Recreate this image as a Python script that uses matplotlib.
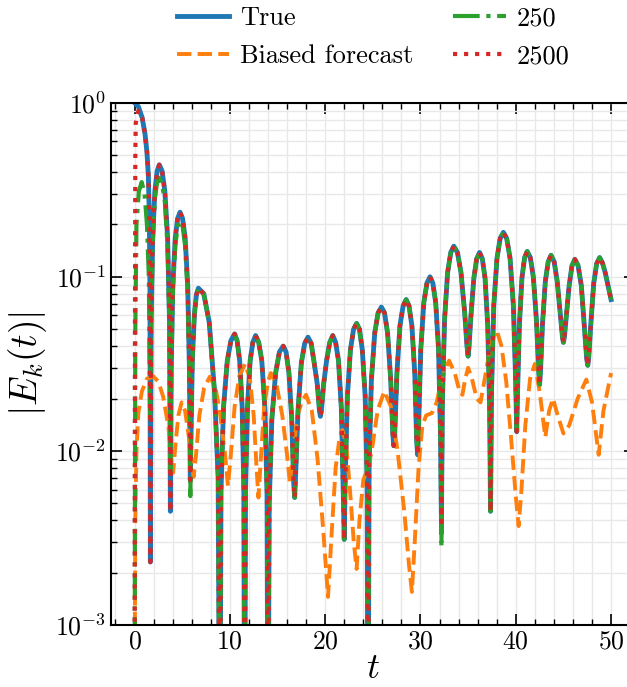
import matplotlib
matplotlib.use("Agg")
import matplotlib.pyplot as plt
import numpy as np
from matplotlib.ticker import MultipleLocator, LogLocator, NullFormatter

plt.rcParams['font.family'] = 'serif'
plt.rcParams['font.serif'] = ['cmr10', 'DejaVu Serif']
plt.rcParams['mathtext.fontset'] = 'cm'
plt.rcParams['axes.formatter.use_mathtext'] = True

# true |E_k(t)|
t_true = [0.0, 0.4, 0.8, 1.1, 1.3, 1.45, 1.55, 1.62, 1.66,
          1.74, 1.90, 2.13, 2.37, 2.6, 2.89, 3.18, 3.47, 3.67, 3.76,
          3.84, 4.01, 4.27, 4.52, 4.77, 5.04, 5.31, 5.58, 5.76, 5.85,
          5.92, 6.06, 6.28, 6.49, 6.7, 7.26, 7.83, 8.39, 8.77, 8.95,
          9.07, 9.34, 9.73, 10.11, 10.5, 10.76, 11.03, 11.29, 11.47, 11.55,
          11.64, 11.84, 12.13, 12.41, 12.7, 13.03, 13.35, 13.68, 13.9, 14.0,
          14.13, 14.4, 14.8, 15.2, 15.6, 15.9, 16.2, 16.5, 16.7, 16.8,
          16.91, 17.15, 17.5, 17.85, 18.2, 18.53, 18.85, 19.18, 19.4, 19.5,
          19.6, 19.83, 20.15, 20.48, 20.8, 21.1, 21.4, 21.7, 21.9, 22.0,
          22.1, 22.33, 22.65, 22.98, 23.3, 23.6, 23.9, 24.2, 24.4, 24.5,
          24.61, 24.85, 25.2, 25.55, 25.9, 26.23, 26.55, 26.88, 27.1, 27.2,
          27.3, 27.53, 27.85, 28.18, 28.5, 28.8, 29.1, 29.4, 29.6, 29.7,
          29.8, 30.03, 30.35, 30.68, 31.0, 31.3, 31.6, 31.9, 32.1, 32.2,
          32.3, 32.53, 32.85, 33.18, 33.5, 33.88, 34.25, 34.63, 34.88, 35.0,
          35.1, 35.3, 35.6, 35.9, 36.2, 36.49, 36.78, 37.06, 37.26, 37.35,
          37.46, 37.69, 38.03, 38.36, 38.7, 39.05, 39.4, 39.75, 39.99, 40.1,
          40.19, 40.38, 40.65, 40.93, 41.2, 41.53, 41.85, 42.18, 42.4, 42.5,
          42.6, 42.8, 43.1, 43.4, 43.7, 44.03, 44.35, 44.68, 44.9, 45.0,
          45.1, 45.3, 45.6, 45.9, 46.2, 46.54, 46.88, 47.21, 47.44, 47.55,
          47.65, 47.86, 48.18, 48.49, 48.8, 49.1, 49.4, 49.7, 50.0]
e_true = [1.0, 0.95, 0.82, 0.66, 0.52, 0.38, 0.22, 0.08, 0.0023,
          0.055, 0.167, 0.31, 0.405, 0.44, 0.405, 0.31, 0.167, 0.055, 0.0045,
          0.029, 0.089, 0.167, 0.216, 0.235, 0.216, 0.167, 0.089, 0.029, 0.0068,
          0.012, 0.033, 0.061, 0.079, 0.086, 0.080, 0.055, 0.022, 0.007, 0.0001,
          0.0059, 0.018, 0.033, 0.043, 0.047, 0.043, 0.033, 0.018, 0.0059, 0.0001,
          0.0058, 0.0175, 0.033, 0.042, 0.046, 0.042, 0.033, 0.0175, 0.0058, 0.0001,
          0.005, 0.015, 0.028, 0.037, 0.040, 0.037, 0.028, 0.015, 0.0065, 0.0054,
          0.0075, 0.017, 0.032, 0.0415, 0.045, 0.0415, 0.032, 0.024, 0.017, 0.0158,
          0.017, 0.024, 0.033, 0.042, 0.046, 0.042, 0.033, 0.0175, 0.0058, 0.0031,
          0.0068, 0.0205, 0.038, 0.050, 0.054, 0.050, 0.038, 0.0205, 0.0068, 0.0001,
          0.0084, 0.0255, 0.0475, 0.062, 0.067, 0.062, 0.0475, 0.0255, 0.0125, 0.0107,
          0.0125, 0.028, 0.0525, 0.068, 0.074, 0.068, 0.0525, 0.028, 0.0115, 0.0095,
          0.0135, 0.038, 0.071, 0.092, 0.10, 0.092, 0.071, 0.038, 0.0125, 0.0039,
          0.019, 0.057, 0.106, 0.138, 0.15, 0.138, 0.106, 0.063, 0.040, 0.035,
          0.040, 0.060, 0.098, 0.127, 0.138, 0.127, 0.098, 0.052, 0.017, 0.0045,
          0.0225, 0.068, 0.128, 0.166, 0.18, 0.166, 0.128, 0.068, 0.025, 0.0129,
          0.022, 0.053, 0.099, 0.129, 0.14, 0.129, 0.099, 0.055, 0.029, 0.024,
          0.029, 0.053, 0.094, 0.122, 0.133, 0.122, 0.094, 0.060, 0.045, 0.042,
          0.045, 0.059, 0.089, 0.116, 0.126, 0.116, 0.089, 0.050, 0.034, 0.031,
          0.034, 0.052, 0.092, 0.119, 0.129, 0.12, 0.105, 0.088, 0.074]

# biased forecast
t_bias = [0.0, 0.08, 0.2, 0.4, 0.77, 1.3, 2.0, 2.5, 3.0, 3.55, 3.85, 4.05, 4.3,
          4.6, 4.94, 5.3, 5.7, 6.0, 6.2, 6.45, 6.8, 7.3, 7.9, 8.5, 9.0, 9.5,
          9.8, 10.1, 10.5, 11.0, 11.6, 12.1, 12.5, 12.8, 13.0, 13.25, 13.6,
          14.0, 14.3, 14.9, 15.5, 16.0, 16.3, 16.6, 17.1, 17.6, 18.0, 18.6,
          19.2, 19.8, 20.3, 20.7, 21.1, 21.5, 21.8, 22.2, 22.6, 23.0, 23.3,
          23.6, 24.0, 24.6, 25.0, 25.5, 26.2, 26.9, 27.6, 28.3, 28.8, 29.1,
          29.4, 29.8, 30.2, 30.6, 31.2, 31.7, 32.3, 33.0, 33.6, 34.1, 34.4,
          34.7, 35.0, 35.4, 35.9, 36.3, 36.8, 37.4, 38.0, 38.5, 39.0, 39.5,
          40.0, 40.3, 40.6, 41.0, 41.5, 42.0, 42.5, 43.1, 43.5, 43.9, 44.4,
          45.0, 45.6, 46.5, 47.4, 48.0, 48.7, 49.2, 50.0]
e_bias = [0.0003, 0.004, 0.01, 0.0166, 0.022, 0.026, 0.0267, 0.025, 0.0205,
          0.0138, 0.009, 0.0075, 0.011, 0.016, 0.019, 0.017, 0.012, 0.0085,
          0.0071, 0.0095, 0.016, 0.023, 0.0267, 0.023, 0.016, 0.0095, 0.0063,
          0.0095, 0.018, 0.027, 0.0316, 0.026, 0.016, 0.008, 0.0054, 0.009,
          0.018, 0.025, 0.028, 0.024, 0.016, 0.0095, 0.0065, 0.0095, 0.016,
          0.0195, 0.021, 0.017, 0.009, 0.0035, 0.00145, 0.0035, 0.008, 0.0118,
          0.0132, 0.011, 0.006, 0.003, 0.0021, 0.004, 0.0068, 0.0083, 0.011,
          0.017, 0.022, 0.018, 0.01, 0.0045, 0.0022, 0.00155, 0.003, 0.008,
          0.014, 0.016, 0.0165, 0.019, 0.027, 0.033, 0.028, 0.022, 0.021,
          0.026, 0.030, 0.026, 0.020, 0.019, 0.027, 0.042, 0.0495, 0.040,
          0.025, 0.012, 0.0055, 0.0037, 0.006, 0.014, 0.026, 0.0316, 0.022,
          0.012, 0.017, 0.020, 0.016, 0.0126, 0.014, 0.020, 0.0257, 0.019,
          0.0095, 0.017, 0.028]

# 250 and 2500: start segments, afterwards on top of the true curve
t_250_start = [0.0, 0.04, 0.08, 0.2, 0.45, 0.75, 1.05, 1.3, 1.5, 1.63,
               1.72, 1.9, 2.13, 2.37, 2.6, 2.89, 3.18, 3.47, 3.67, 3.76,
               3.84, 4.01, 4.27, 4.52, 4.77, 5.04, 5.31, 5.58, 5.76, 5.85]
e_250_start = [0.0001, 0.005, 0.05, 0.2, 0.31, 0.35, 0.3, 0.2, 0.1, 0.0145,
               0.05, 0.15, 0.28, 0.35, 0.37, 0.34, 0.27, 0.145, 0.05, 0.0075,
               0.027, 0.08, 0.15, 0.195, 0.21, 0.195, 0.15, 0.08, 0.026, 0.0055]
t_2500_start = [0.0, 0.04, 0.08, 0.12, 0.4, 0.8]
e_2500_start = [0.0001, 0.05, 0.5, 0.76, 0.9, 0.82]

t_true = np.array(t_true)
e_true = np.array(e_true)
k250 = t_true > 5.85
k2500 = t_true > 0.8
t_250 = np.concatenate([t_250_start, t_true[k250]])
e_250 = np.concatenate([e_250_start, e_true[k250]])
e_250[t_250 == 32.2] = 0.0028
t_2500 = np.concatenate([t_2500_start, t_true[k2500]])
e_2500 = np.concatenate([e_2500_start, e_true[k2500]])

fig = plt.figure(figsize=(6.27, 6.87), dpi=100)
ax = fig.add_axes([0.1766, 0.0902, 0.836, 0.7603])

ax.plot(t_true, e_true, color='#1f77b4', lw=3.5, ls='-', label='True')
ax.plot(t_bias, e_bias, color='#ff7f0e', lw=2.8, ls='--', label='Biased forecast')
ax.plot(t_250, e_250, color='#2ca02c', lw=3.0, ls='-.', label='250')
ax.plot(t_2500, e_2500, color='#d62728', lw=3.0, ls=':', label='2500')

ax.set_yscale('log')
ax.set_xlim(-2.5, 52.5)
ax.set_ylim(1e-3, 1)
ax.xaxis.set_major_locator(MultipleLocator(10))
ax.xaxis.set_minor_locator(MultipleLocator(2))
ax.yaxis.set_major_locator(LogLocator(base=10))
ax.yaxis.set_minor_locator(LogLocator(base=10, subs=np.arange(2, 10)))
ax.yaxis.set_minor_formatter(NullFormatter())

ax.grid(True, which='both', color='#e8e8e8', lw=1.0)
ax.set_axisbelow(True)
ax.tick_params(which='both', direction='in', top=True, right=True, labelsize=18.5)
ax.tick_params(which='major', length=8, width=1.2)
ax.tick_params(which='minor', length=4, width=1.0)
for s in ax.spines.values():
    s.set_linewidth(1.5)

ax.set_xlabel(r'$t$', fontsize=26, labelpad=0)
ax.set_ylabel(r'$|E_k(t)|$', fontsize=27, labelpad=4)

ax.legend(loc='lower center', bbox_to_anchor=(0.5, 1.0), ncol=2, frameon=False,
          fontsize=19, handlelength=2.0, handletextpad=0.4, columnspacing=1.5,
          labelspacing=0.55, borderaxespad=0.9)

fig.savefig('out.png', dpi=100)
